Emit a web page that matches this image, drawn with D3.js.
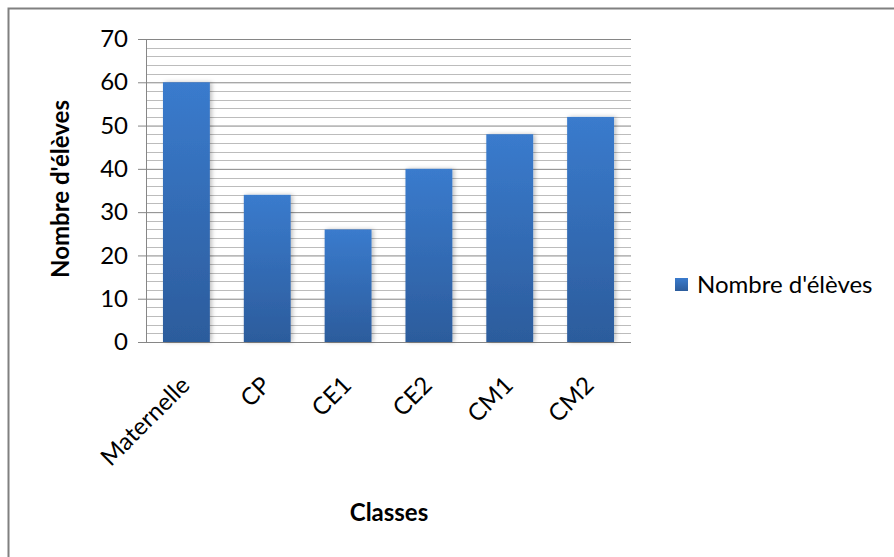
<!DOCTYPE html>
<html>
<head>
<meta charset="utf-8">
<script src="https://cdn.jsdelivr.net/npm/d3@7"></script>
<style>
  body { margin: 0; background: #fff; }
  svg { font-family: Lato, "Open Sans", sans-serif; }
</style>
</head>
<body>
<div id="chart"></div>
<script>
const classes = ['Maternelle', 'CP', 'CE1', 'CE2', 'CM1', 'CM2'];
const eleves = [60, 34, 26, 40, 48, 52];
const yTicks = [0, 10, 20, 30, 40, 50, 60, 70];
const minorTicks = d3.range(0, 71, 2);
const seriesName = "Nombre d'élèves";

const width = 894;
const height = 557;
const margin = { top: 39, right: 263, bottom: 215, left: 146 };
const plotW = width - margin.left - margin.right;
const plotH = height - margin.top - margin.bottom;

const svg = d3.select('#chart')
  .append('svg')
  .attr('width', width)
  .attr('height', height);

// outer frame
svg.append('rect')
  .attr('x', 8.5).attr('y', 8.5)
  .attr('width', width + 10).attr('height', height + 10)
  .attr('fill', 'none')
  .attr('stroke', '#808080')
  .attr('stroke-width', 2);

const defs = svg.append('defs');
const grad = defs.append('linearGradient')
  .attr('id', 'barGrad')
  .attr('x1', 0).attr('y1', 0).attr('x2', 0).attr('y2', 1);
grad.append('stop').attr('offset', '0%').attr('stop-color', '#3a7bcd');
grad.append('stop').attr('offset', '100%').attr('stop-color', '#2c5c9c');

const shadow = defs.append('filter').attr('id', 'shadow')
  .attr('x', '-20%').attr('y', '-5%').attr('width', '150%').attr('height', '110%');
shadow.append('feDropShadow')
  .attr('dx', 2).attr('dy', 0).attr('stdDeviation', 2)
  .attr('flood-color', '#000').attr('flood-opacity', 0.25);

const g = svg.append('g')
  .attr('transform', `translate(${margin.left},${margin.top})`);

const x = d3.scaleBand()
  .domain(classes)
  .range([0, plotW])
  .paddingInner(0.42)
  .paddingOuter(0.21);

const y = d3.scaleLinear()
  .domain([0, 70])
  .range([plotH, 0]);

// minor gridlines
g.append('g')
  .selectAll('line')
  .data(minorTicks.filter((d) => d % 10 !== 0))
  .enter()
  .append('line')
  .attr('x1', 0).attr('x2', plotW)
  .attr('y1', (d) => Math.round(y(d)) + 0.5)
  .attr('y2', (d) => Math.round(y(d)) + 0.5)
  .attr('stroke', '#bcbcbc');

// major gridlines + tick marks
const yAxis = g.append('g')
  .call(d3.axisLeft(y).tickValues(yTicks).tickSize(-plotW).tickPadding(18))
  .call((sel) => sel.select('.domain').remove());
yAxis.selectAll('.tick line')
  .attr('x1', -8)
  .attr('stroke', '#868686');
yAxis.selectAll('.tick text')
  .attr('font-size', 24)
  .attr('font-family', 'Lato, "Open Sans", sans-serif')
  .attr('fill', '#000');

// y axis line
g.append('line')
  .attr('x1', 0.5).attr('x2', 0.5)
  .attr('y1', 0).attr('y2', plotH)
  .attr('stroke', '#868686');

// bars
g.append('g')
  .selectAll('rect')
  .data(classes.map((c, i) => ({ c, v: eleves[i] })))
  .enter()
  .append('rect')
  .attr('x', (d) => x(d.c))
  .attr('y', (d) => y(d.v))
  .attr('width', x.bandwidth())
  .attr('height', (d) => plotH - y(d.v))
  .attr('fill', 'url(#barGrad)')
  .attr('filter', 'url(#shadow)');

// x labels
g.append('g')
  .selectAll('text')
  .data(classes)
  .enter()
  .append('text')
  .attr('transform', (d) => `translate(${x(d) + x.bandwidth() / 2 - 8},${plotH + 32}) rotate(-45)`)
  .attr('text-anchor', 'end')
  .attr('dy', '0.75em')
  .attr('font-size', 24)
  .text((d) => d);

// axis titles
svg.append('text')
  .attr('x', 389).attr('y', 521)
  .attr('text-anchor', 'middle')
  .attr('font-size', 24)
  .attr('font-weight', 'bold')
  .text('Classes');

svg.append('text')
  .attr('transform', 'translate(69,189) rotate(-90)')
  .attr('text-anchor', 'middle')
  .attr('font-size', 24)
  .attr('font-weight', 'bold')
  .text(seriesName);

// legend
const legend = svg.append('g').attr('transform', 'translate(675,278)');
legend.append('rect')
  .attr('width', 13).attr('height', 13)
  .attr('fill', 'url(#barGrad)');
legend.append('text')
  .attr('x', 22).attr('y', 7)
  .attr('dy', '0.35em')
  .attr('font-size', 24)
  .text(seriesName);
</script>
</body>
</html>
